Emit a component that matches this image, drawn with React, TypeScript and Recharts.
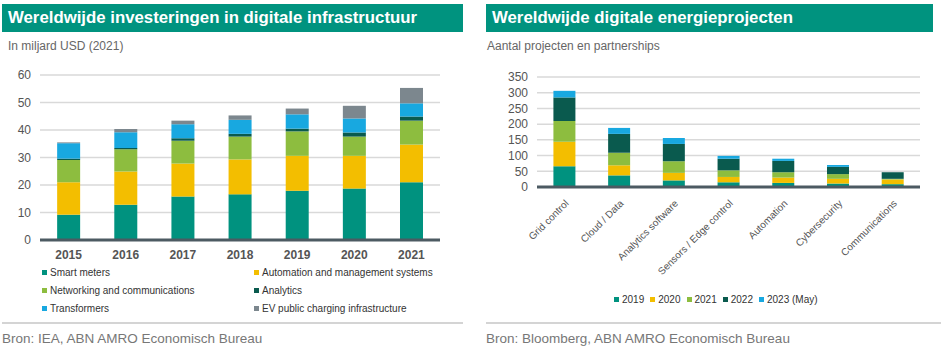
import { BarChart, Bar, XAxis, YAxis, CartesianGrid } from "recharts";

// left chart: investments, bn USD
const years = ["2015", "2016", "2017", "2018", "2019", "2020", "2021"];
const smartMeters = [9.2, 12.8, 15.8, 16.6, 17.9, 18.7, 21.0];
const automationSystems = [11.8, 12.1, 12.0, 12.7, 12.7, 11.9, 13.7];
const networking = [8.1, 8.1, 8.3, 8.3, 8.9, 7.0, 8.7];
const analytics = [0.5, 0.5, 0.9, 1.0, 1.0, 1.5, 1.5];
const transformers = [5.6, 5.7, 5.1, 5.1, 5.2, 5.1, 4.8];
const evCharging = [0.3, 1.2, 1.3, 1.6, 2.1, 4.6, 5.6];
const leftTicks = [0, 10, 20, 30, 40, 50, 60];

// right chart: number of projects
const projectTypes = [
  "Grid control",
  "Cloud / Data",
  "Analytics software",
  "Sensors / Edge control",
  "Automation",
  "Cybersecurity",
  "Communications",
];
const p2019 = [66, 37, 21, 15, 13, 11, 9];
const p2020 = [78, 32, 24, 17, 17, 15, 15];
const p2021 = [66, 40, 37, 21, 17, 15, 2];
const p2022 = [75, 60, 55, 37, 36, 23, 21];
const p2023 = [21, 19, 19, 9, 7, 6, 0];
const rightTicks = [0, 50, 100, 150, 200, 250, 300, 350];

const TEAL = "#00927f";
const YELLOW = "#f3be00";
const GREEN = "#8dbd3f";
const DARK = "#0a5a4e";
const BLUE = "#18a8e0";
const GREY = "#7c878e";
const AXIS = "#4c5a62";

const leftSeries = [
  { key: "smart", name: "Smart meters", color: TEAL, values: smartMeters },
  { key: "auto", name: "Automation and management systems", color: YELLOW, values: automationSystems },
  { key: "net", name: "Networking and communications", color: GREEN, values: networking },
  { key: "ana", name: "Analytics", color: DARK, values: analytics },
  { key: "trans", name: "Transformers", color: BLUE, values: transformers },
  { key: "ev", name: "EV public charging infrastructure", color: GREY, values: evCharging },
];

const rightSeries = [
  { key: "y2019", name: "2019", color: TEAL, values: p2019 },
  { key: "y2020", name: "2020", color: YELLOW, values: p2020 },
  { key: "y2021", name: "2021", color: GREEN, values: p2021 },
  { key: "y2022", name: "2022", color: DARK, values: p2022 },
  { key: "y2023", name: "2023 (May)", color: BLUE, values: p2023 },
];

const leftData = years.map((year, i) => {
  const row: Record<string, string | number> = { year };
  leftSeries.forEach((s) => (row[s.key] = s.values[i]));
  return row;
});

const rightData = projectTypes.map((type, i) => {
  const row: Record<string, string | number> = { type };
  rightSeries.forEach((s) => (row[s.key] = s.values[i]));
  return row;
});

const header = (left: number, width: number, text: string) => (
  <div
    style={{
      position: "absolute",
      left,
      top: 4,
      width,
      height: 28,
      background: "#00937f",
      color: "#fff",
      fontWeight: "bold",
      fontSize: 16.8,
      lineHeight: "28px",
      paddingLeft: 6,
      boxSizing: "border-box",
    }}
  >
    {text}
  </div>
);

const App = () => {
  return (
    <div
      style={{
        position: "absolute",
        left: 0,
        top: 0,
        width: 949,
        height: 357,
        background: "#fff",
        fontFamily: "Arial, 'Liberation Sans', sans-serif",
        overflow: "hidden",
      }}
    >
      {/* Left panel */}
      {header(2, 461, "Wereldwijde investeringen in digitale infrastructuur")}
      <div style={{ position: "absolute", left: 8, top: 39, fontSize: 12, color: "#666" }}>
        In miljard USD (2021)
      </div>

      <div style={{ position: "absolute", left: 0, top: 60 }}>
        <BarChart
          width={470}
          height={215}
          data={leftData}
          margin={{ top: 15, right: 30, bottom: 0, left: 0 }}
          barCategoryGap="30%"
        >
          <CartesianGrid vertical={false} stroke="#d9d9d9" strokeWidth={1.5} />
          <XAxis
            dataKey="year"
            height={35}
            tickLine={false}
            axisLine={{ stroke: AXIS, strokeWidth: 3 }}
            tick={{ fill: "#555", fontSize: 12, fontWeight: "bold" }}
            tickMargin={4}
          />
          <YAxis
            width={40}
            domain={[0, 60]}
            ticks={leftTicks}
            interval={0}
            axisLine={false}
            tickLine={false}
            tickSize={0}
            tickMargin={9}
            tick={{ fill: "#555", fontSize: 12 }}
          />
          {leftSeries.map((s) => (
            <Bar key={s.key} dataKey={s.key} stackId="a" fill={s.color} isAnimationActive={false} />
          ))}
        </BarChart>
      </div>

      {/* Left legend */}
      {leftSeries.map((s, i) => (
        <div
          key={s.key}
          style={{
            position: "absolute",
            left: i % 2 === 0 ? 42 : 254,
            top: 267 + Math.floor(i / 2) * 18,
            fontSize: 10,
            color: "#333",
            display: "flex",
            alignItems: "center",
            whiteSpace: "nowrap",
          }}
        >
          <span style={{ width: 5, height: 5, background: s.color, display: "inline-block", marginRight: 3 }} />
          {s.name}
        </div>
      ))}

      <div style={{ position: "absolute", left: 2, top: 322, width: 461, height: 2, background: "#d4d4d4" }} />
      <div style={{ position: "absolute", left: 2, top: 331, fontSize: 13.5, color: "#777" }}>
        Bron: IEA, ABN AMRO Economisch Bureau
      </div>

      {/* Right panel */}
      {header(486, 447, "Wereldwijde digitale energieprojecten")}
      <div style={{ position: "absolute", left: 487, top: 39, fontSize: 12, color: "#666" }}>
        Aantal projecten en partnerships
      </div>

      <div style={{ position: "absolute", left: 480, top: 60 }}>
        <BarChart
          width={460}
          height={227}
          data={rightData}
          margin={{ top: 17, right: 20, bottom: 0, left: 0 }}
          barCategoryGap="30%"
        >
          <CartesianGrid vertical={false} stroke="#d9d9d9" strokeWidth={1.5} />
          <XAxis
            dataKey="type"
            height={100}
            interval={0}
            tickLine={false}
            axisLine={{ stroke: AXIS, strokeWidth: 3 }}
            angle={-45}
            textAnchor="end"
            tick={{ fill: "#555", fontSize: 10 }}
            tickMargin={6}
          />
          <YAxis
            width={57}
            domain={[0, 350]}
            ticks={rightTicks}
            interval={0}
            axisLine={false}
            tickLine={false}
            tickSize={0}
            tickMargin={9}
            tick={{ fill: "#555", fontSize: 12 }}
          />
          {rightSeries.map((s) => (
            <Bar key={s.key} dataKey={s.key} stackId="b" fill={s.color} isAnimationActive={false} />
          ))}
        </BarChart>
      </div>

      {/* Right legend */}
      <div
        style={{
          position: "absolute",
          left: 614,
          top: 294,
          display: "flex",
          gap: 6,
          fontSize: 10,
          color: "#333",
          whiteSpace: "nowrap",
        }}
      >
        {rightSeries.map((s) => (
          <span key={s.key} style={{ display: "flex", alignItems: "center" }}>
            <span style={{ width: 5, height: 5, background: s.color, display: "inline-block", marginRight: 3 }} />
            {s.name}
          </span>
        ))}
      </div>

      <div style={{ position: "absolute", left: 486, top: 322, width: 455, height: 2, background: "#d4d4d4" }} />
      <div style={{ position: "absolute", left: 486, top: 331, fontSize: 13.5, color: "#777" }}>
        Bron: Bloomberg, ABN AMRO Economisch Bureau
      </div>
    </div>
  );
};

export default App;
